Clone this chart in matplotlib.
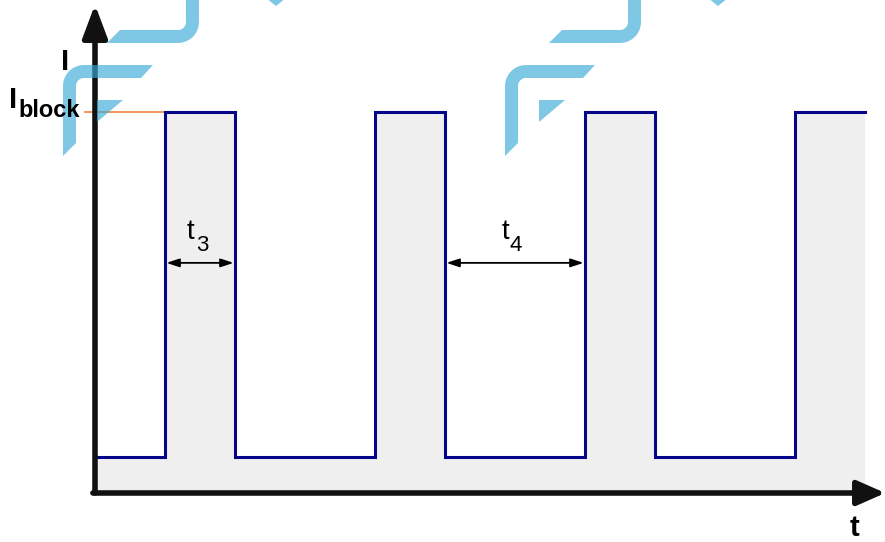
import matplotlib
matplotlib.use("Agg")
import matplotlib.pyplot as plt
from matplotlib.patches import FancyArrowPatch, Polygon
import numpy as np

# ---- data ----
t_steps = [0, 1, 2, 4, 5, 7, 8, 10, 11]
I_low = 0.095
I_block = 1.0
I_steps = [I_low, I_block, I_low, I_block, I_low, I_block, I_low, I_block, I_block]
t3_span = [1, 2]
t4_span = [5, 7]
t_axis_end = 11.29
I_axis_end = 1.282

W, H = 885, 542
fig = plt.figure(figsize=(W / 100, H / 100), dpi=100)
ax = fig.add_axes([0, 0, 1, 1])
ax.set_xlim(-95 / 70, (W - 95) / 70)
ax.set_ylim((493 - H) / 381, 493 / 381)
ax.axis("off")

navy = "#05058a"
# grey fill under waveform
ax.fill_between(t_steps, 0, I_steps, step="post", color="#efefef", lw=0, zorder=1)
# waveform
ax.plot(t_steps, I_steps, drawstyle="steps-post", color=navy, lw=2.2, zorder=3,
        solid_joinstyle="miter")
# orange I_block reference line
ax.plot([-0.14, t_steps[1]], [I_block, I_block], color="#f08040", lw=1.2, zorder=2)

# axes with arrows
ax.add_patch(FancyArrowPatch((0, 0), (0, I_axis_end), arrowstyle="-|>,head_length=20,head_width=7.5",
                             mutation_scale=1, lw=4, color="#111111", shrinkA=0, shrinkB=0, zorder=4))
ax.add_patch(FancyArrowPatch((-0.03, 0), (t_axis_end, 0), arrowstyle="-|>,head_length=17,head_width=7.5",
                             mutation_scale=1, lw=4, color="#111111", shrinkA=0, shrinkB=0, zorder=4))

# duration arrows
for span in (t3_span, t4_span):
    ax.annotate("", xy=(span[1], 0.604), xytext=(span[0], 0.604),
                arrowprops=dict(arrowstyle="<|-|>,head_length=0.55,head_width=0.18",
                                lw=1.3, color="black", shrinkA=1, shrinkB=1,
                                mutation_scale=14), zorder=5)

# overlay in pixel coordinates for labels and watermark
ov = fig.add_axes([0, 0, 1, 1], zorder=10)
ov.set_xlim(0, W)
ov.set_ylim(H, 0)
ov.axis("off")
ov.patch.set_alpha(0)

sans = ["Liberation Sans", "DejaVu Sans"]
ov.text(61, 70, "I", fontsize=21, fontweight="bold", family=sans, ha="left", va="baseline")
ov.text(9, 108, "I", fontsize=21, fontweight="bold", family=sans, ha="left", va="baseline")
ov.text(18, 117, "block", fontsize=17, fontweight="bold", family=sans, ha="left", va="baseline")
ov.text(850, 536, "t", fontsize=21, fontweight="bold", family=sans, ha="left", va="baseline")
ov.text(187, 239, "t", fontsize=20, family=sans, ha="left", va="baseline")
ov.text(196, 251, "3", fontsize=16, family=sans, ha="left", va="baseline")
ov.text(502, 239, "t", fontsize=20, family=sans, ha="left", va="baseline")
ov.text(510, 251, "4", fontsize=16, family=sans, ha="left", va="baseline")

# watermark logo
def arc(cx, cy, r, a0, a1, n=12):
    a = np.radians(np.linspace(a0, a1, n))
    return [(cx + r * np.cos(t), cy + r * np.sin(t)) for t in a]

def logo(dx):
    col = (57 / 255, 171 / 255, 217 / 255)
    shapes = []
    # top stroke: horizontal band then rounded corner up
    outer = [(107 + dx, 43)] + [(178 + dx, 43)] + arc(178 + dx, 22, 21, 90, 0)[1:] + [(199 + dx, -5)]
    inner = [(186 + dx, -5)] + arc(178 + dx, 22, 8, 0, 90)[:-1] + [(178 + dx, 30), (120 + dx, 30)]
    shapes.append(outer + inner)
    # middle stroke: horizontal band with rounded corner down
    outer2 = [(153 + dx, 65), (84 + dx, 65)] + arc(84 + dx, 86, 21, 270, 180)[1:] + [(63 + dx, 156)]
    inner2 = [(76 + dx, 143)] + arc(84 + dx, 86, 8, 180, 270)[:-1] + [(84 + dx, 78), (141 + dx, 78)]
    shapes.append(outer2 + inner2)
    # small piece
    shapes.append([(97 + dx, 100), (123 + dx, 100), (97 + dx, 122)])
    # top-right fragment
    shapes.append([(266 + dx, -2), (286 + dx, -2), (276 + dx, 6)])
    for s in shapes:
        ov.add_patch(Polygon(s, closed=True, facecolor=col, edgecolor="none", alpha=0.65))

logo(0)
logo(442)

fig.savefig("out.png", dpi=100)
